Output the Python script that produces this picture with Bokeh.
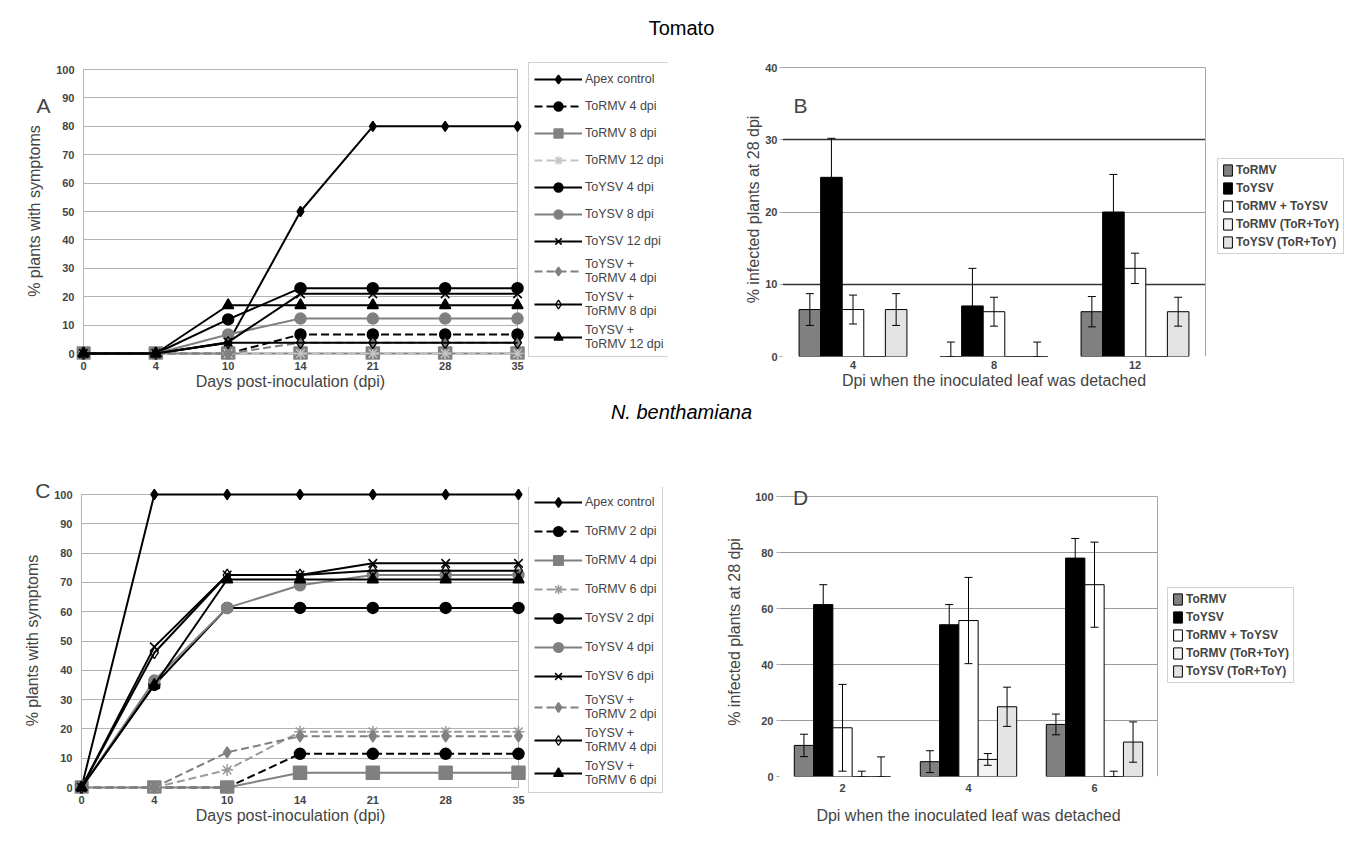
from bokeh.plotting import figure
from bokeh.layouts import column, row
from bokeh.models import (Range1d, FixedTicker, Legend, LegendItem, Label, Div,
                          Whisker, TeeHead, ColumnDataSource, LinearAxis, Grid)
from bokeh.transform import dodge
from bokeh.core.properties import value
from bokeh.embed import file_html
from bokeh.resources import INLINE

FONT = "Liberation Sans"

# ------------------------------------------------------------------ data
days = ["0", "4", "10", "14", "21", "28", "35"]

tomato_labels = ["Apex control", "ToRMV 4 dpi", "ToRMV 8 dpi", "ToRMV 12 dpi",
                 "ToYSV 4 dpi", "ToYSV 8 dpi", "ToYSV 12 dpi",
                 "ToYSV +\nToRMV 4 dpi", "ToYSV +\nToRMV 8 dpi", "ToYSV +\nToRMV 12 dpi"]
tom_apex = [0, 0, 3.8, 50, 80, 80, 80]
tom_tormv_4 = [0, 0, 0, 6.7, 6.7, 6.7, 6.7]
tom_tormv_8 = [0, 0, 0, 0, 0, 0, 0]
tom_tormv_12 = [0, 0, 0, 0, 0, 0, 0]
tom_toysv_4 = [0, 0, 12, 23, 23, 23, 23]
tom_toysv_8 = [0, 0, 6.7, 12.3, 12.3, 12.3, 12.3]
tom_toysv_12 = [0, 0, 4, 21, 21, 21, 21]
tom_mix_4 = [0, 0, 0, 3.8, 3.8, 3.8, 3.8]
tom_mix_8 = [0, 0, 3.8, 3.8, 3.8, 3.8, 3.8]
tom_mix_12 = [0, 0, 17, 17, 17, 17, 17]

nb_labels = ["Apex control", "ToRMV 2 dpi", "ToRMV 4 dpi", "ToRMV 6 dpi",
             "ToYSV 2 dpi", "ToYSV 4 dpi", "ToYSV 6 dpi",
             "ToYSV +\nToRMV 2 dpi", "ToYSV +\nToRMV 4 dpi", "ToYSV +\nToRMV 6 dpi"]
nb_apex = [0, 100, 100, 100, 100, 100, 100]
nb_tormv_2 = [0, 0, 0, 11.5, 11.5, 11.5, 11.5]
nb_tormv_4 = [0, 0, 0, 5, 5, 5, 5]
nb_tormv_6 = [0, 0, 6, 19, 19, 19, 19]
nb_toysv_2 = [0, 35, 61.3, 61.3, 61.3, 61.3, 61.3]
nb_toysv_4 = [0, 36.5, 61.3, 69, 72.5, 72.5, 72.5]
nb_toysv_6 = [0, 48, 72.5, 72.5, 76.5, 76.5, 76.5]
nb_mix_2 = [0, 0, 12, 17.5, 17.5, 17.5, 17.5]
nb_mix_4 = [0, 46, 72.5, 72.5, 74, 74, 74]
nb_mix_6 = [0, 35, 71, 71, 71, 71, 71]

bar_names = ["ToRMV", "ToYSV", "ToRMV + ToYSV", "ToRMV (ToR+ToY)", "ToYSV (ToR+ToY)"]

tom_dpi = ["4", "8", "12"]
tom_b_tormv = [6.5, 0, 6.2]
tom_b_tormv_err = [2.2, 2.0, 2.1]
tom_b_toysv = [24.8, 7.0, 20.0]
tom_b_toysv_err = [5.4, 5.2, 5.2]
tom_b_both = [6.5, 6.2, 12.2]
tom_b_both_err = [2.0, 2.0, 2.1]
tom_b_tormv_mix = [0, 0, 0]
tom_b_tormv_mix_err = [0, 0, 0]
tom_b_toysv_mix = [6.5, 0, 6.2]
tom_b_toysv_mix_err = [2.2, 2.0, 2.0]

nb_dpi = ["2", "4", "6"]
nb_b_tormv = [11.1, 5.3, 18.6]
nb_b_tormv_err = [4.0, 3.9, 3.7]
nb_b_toysv = [61.4, 54.2, 78.0]
nb_b_toysv_err = [7.1, 7.2, 7.0]
nb_b_both = [17.4, 55.7, 68.5]
nb_b_both_err = [15.5, 15.4, 15.2]
nb_b_tormv_mix = [0, 6.1, 0]
nb_b_tormv_mix_err = [1.9, 2.1, 1.9]
nb_b_toysv_mix = [0, 24.9, 12.3]
nb_b_toysv_mix_err = [7.0, 7.0, 7.2]

# ------------------------------------------------------------------ styles
GRAY = "#808080"
GRID = "#b4b4b4"
BOX = "#a6a6a6"


def line_styles(light):
    return [
        dict(color="black", dash="solid", marker="diamond", size=10, fill="black", mline="black"),
        dict(color="black", dash="8 4", marker="circle", size=11, fill="black", mline="black"),
        dict(color=GRAY, dash="solid", marker="square", size=13, fill=GRAY, mline=GRAY),
        dict(color=light, dash="8 4", marker="asterisk", size=12, fill=light, mline=light),
        dict(color="black", dash="solid", marker="circle", size=11, fill="black", mline="black"),
        dict(color=GRAY, dash="solid", marker="circle", size=11, fill=GRAY, mline=GRAY),
        dict(color="black", dash="solid", marker="x", size=12, fill="black", mline="black"),
        dict(color=GRAY, dash="8 4", marker="diamond", size=11, fill=GRAY, mline=GRAY),
        dict(color="black", dash="solid", marker="diamond", size=12, fill=None, mline="black"),
        dict(color="black", dash="solid", marker="triangle", size=11, fill="black", mline="black"),
    ]


def style_axis(ax, tick_out, standoff, label_standoff=0):
    ax.major_label_text_font = FONT
    ax.major_label_text_font_style = "bold"
    ax.major_label_text_font_size = "11px"
    ax.axis_label_text_font = FONT
    ax.axis_label_text_font_style = "normal"
    ax.axis_label_text_font_size = "16px"
    ax.axis_line_color = None
    ax.major_tick_line_color = "#9a9a9a" if tick_out else None
    ax.major_tick_in = 0
    ax.major_tick_out = tick_out
    ax.minor_tick_line_color = None
    ax.major_label_standoff = standoff
    ax.axis_label_standoff = label_standoff


def text_axis(loc, text, standoff, size):
    """An axis with one tick whose label is a title or a panel letter."""
    ax = LinearAxis(ticker=FixedTicker(ticks=[loc]), major_label_overrides={loc: text})
    style_axis(ax, 0, standoff)
    ax.major_label_text_font_style = "normal"
    ax.major_label_text_font_size = size
    return ax


def title_axis(text, standoff):
    ax = LinearAxis(ticker=FixedTicker(ticks=[]), axis_label=text)
    style_axis(ax, 0, 0, standoff)
    ax.major_label_text_font_size = "0px"
    return ax


def line_panel(series, labels, styles, data_w, data_h, left_border, frame_w, borders_tb,
               legend_xy, glyph_h, letter, letter_y, letter_std, ytitle_std, xtitle_x):
    n = len(days) - 1
    ux = data_w / n
    uy = data_h / 100.0
    p = figure(frame_width=frame_w, frame_height=data_h + 13,
               x_range=Range1d(-7 / ux, -7 / ux + frame_w / ux),
               y_range=Range1d(-6 / uy, 100 + 7 / uy),
               x_axis_type=None, y_axis_type=None, title_location=None,
               min_border_left=left_border, min_border_right=0,
               min_border_top=borders_tb[0], min_border_bottom=borders_tb[1],
               output_backend="svg", toolbar_location=None,
               outline_line_color=None, background_fill_color="white")
    xs = list(range(len(days)))

    p.add_layout(Grid(dimension=1, ticker=FixedTicker(ticks=list(range(0, 101, 10))),
                      cross_bounds=(0, n), grid_line_color=GRID, grid_line_width=1))
    p.add_layout(Grid(dimension=0, ticker=FixedTicker(ticks=[0, n]),
                      cross_bounds=(0, 100), grid_line_color=GRID, grid_line_width=1))

    xax = LinearAxis(ticker=FixedTicker(ticks=xs),
                     major_label_overrides={i: d for i, d in enumerate(days)})
    style_axis(xax, 0, 2)
    p.add_layout(xax, "below")
    p.add_layout(text_axis(xtitle_x, "Days post-inoculation (dpi)", 0, "16px"), "below")

    yax = LinearAxis(ticker=FixedTicker(ticks=list(range(0, 101, 10))))
    style_axis(yax, 0, 2)
    p.add_layout(yax, "left")
    p.add_layout(text_axis(letter_y, letter, letter_std, "21px"), "left")
    p.add_layout(title_axis("% plants with symptoms", ytitle_std), "left")

    items = []
    for vals, lab, st in zip(series, labels, styles):
        src = ColumnDataSource(dict(x=xs, y=vals))
        lr = p.line("x", "y", source=src, line_color=st["color"], line_width=2,
                    line_dash=st["dash"])
        if st["fill"] is None:
            sr = p.scatter("x", "y", source=src, marker=st["marker"], size=st["size"],
                           fill_alpha=0, line_color=st["mline"], line_width=1.3)
        else:
            sr = p.scatter("x", "y", source=src, marker=st["marker"], size=st["size"],
                           fill_color=st["fill"], line_color=st["mline"], line_width=1.5)
        items.append(LegendItem(label=value(lab), renderers=[lr, sr]))

    leg = Legend(items=items, location=legend_xy, label_text_font=FONT,
                 label_text_font_size="12.5px", glyph_width=48, glyph_height=glyph_h,
                 label_height=glyph_h, spacing=5, padding=5, margin=0,
                 label_standoff=3, border_line_color=BOX, border_line_width=1,
                 background_fill_color="white")
    p.add_layout(leg)
    return p


def bar_panel(cats, vals, errs, y_end, y_step, data_w, data_h, frame_w, pads, borders,
              legend_xy, dark_ticks, light_ticks, stds, letter, letter_px):
    ncat = len(cats)
    ux = data_w / ncat
    uy = data_h / y_end
    xs = list(range(ncat))
    p = figure(x_range=Range1d(-0.5, -0.5 + frame_w / ux),
               y_range=Range1d(-pads[1] / uy, y_end + pads[0] / uy),
               frame_width=frame_w, frame_height=data_h + pads[0] + pads[1],
               title_location=None, x_axis_type=None, y_axis_type=None,
               min_border_left=borders[0], min_border_right=0,
               min_border_top=borders[1], min_border_bottom=borders[2],
               output_backend="svg", toolbar_location=None,
               outline_line_color=None, background_fill_color="white")
    xb = (-0.5, ncat - 0.5)
    p.add_layout(Grid(dimension=1, ticker=FixedTicker(ticks=light_ticks), cross_bounds=xb,
                      grid_line_color="#9a9a9a", grid_line_width=1))
    if dark_ticks:
        p.add_layout(Grid(dimension=1, ticker=FixedTicker(ticks=dark_ticks), cross_bounds=xb,
                          grid_line_color="#333333", grid_line_width=1.5))
    p.add_layout(Grid(dimension=1, ticker=FixedTicker(ticks=[0, y_end]), cross_bounds=xb,
                      grid_line_color=BOX, grid_line_width=1))
    p.add_layout(Grid(dimension=0, ticker=FixedTicker(ticks=list(xb)),
                      cross_bounds=(0, y_end), grid_line_color=BOX, grid_line_width=1))

    xax = LinearAxis(ticker=FixedTicker(ticks=xs),
                     major_label_overrides={i: c for i, c in enumerate(cats)})
    style_axis(xax, 0, stds[0])
    p.add_layout(xax, "below")
    p.add_layout(text_axis(1, "Dpi when the inoculated leaf was detached", stds[1], "16px"),
                 "below")
    yax = LinearAxis(ticker=FixedTicker(ticks=list(range(0, y_end + 1, y_step))),
                     axis_label="% infected plants at 28 dpi", bounds=(0, y_end))
    style_axis(yax, 3, stds[2], stds[3])
    yax.major_tick_line_color = BOX
    p.add_layout(yax, "left")

    fills = [GRAY, "black", "white", "#f3f3f3", "#e3e3e3"]
    bw = 0.153
    items = []
    for k, name in enumerate(bar_names):
        off = (k - 2) * bw
        src = ColumnDataSource(dict(x=xs, top=vals[k]))
        r = p.vbar(x=dodge("x", off), top="top", width=bw, source=src,
                   fill_color=fills[k], line_color="black", line_width=1)
        items.append(LegendItem(label=value(name), renderers=[r]))
        keep = [i for i in range(ncat) if errs[k][i] > 0]
        wsrc = ColumnDataSource(dict(
            x=[xs[i] for i in keep],
            up=[vals[k][i] + errs[k][i] for i in keep],
            lo=[max(vals[k][i] - errs[k][i], 0) for i in keep]))
        w = Whisker(source=wsrc, base=dodge("x", off), upper="up",
                    lower="lo", level="overlay", line_color="black", line_width=1,
                    upper_head=TeeHead(size=8, line_color="black", line_width=1),
                    lower_head=TeeHead(size=8, line_color="black", line_width=1))
        p.add_layout(w)
    leg = Legend(items=items, location=legend_xy, label_text_font=FONT,
                 label_text_font_size="12px", label_text_font_style="bold",
                 glyph_width=11, glyph_height=14, label_height=14, spacing=4, padding=4,
                 margin=0, label_standoff=3, border_line_color=BOX,
                 background_fill_color="white")
    p.add_layout(leg)
    p.add_layout(Label(x=-0.5 + letter_px[0] / ux, y=letter_px[1] / uy, text=letter,
                       text_font=FONT, text_font_size="21px", text_align="center",
                       text_baseline="middle"))
    return p


# row 1: frames 62..359 (A) and 62..356 (B); row 2: frames 487..793 (C) and 487..776 (D)
pA = line_panel([tom_apex, tom_tormv_4, tom_tormv_8, tom_tormv_12, tom_toysv_4, tom_toysv_8,
                 tom_toysv_12, tom_mix_4, tom_mix_8, tom_mix_12],
                tomato_labels, line_styles("#c4c4c4"), 434, 284, 68, 592, (17, 41),
                (452, 2), 22, "A", 87.3, 3, -9, 2.86)

pB = bar_panel(tom_dpi,
               [tom_b_tormv, tom_b_toysv, tom_b_both, tom_b_tormv_mix, tom_b_toysv_mix],
               [tom_b_tormv_err, tom_b_toysv_err, tom_b_both_err, tom_b_tormv_mix_err,
                tom_b_toysv_mix_err],
               40, 10, 423, 289, 573, (5, 0), (114, 17, 44), (435, 102),
               [10, 30], [20], (4, 0, 2, 0), "B", (18, 251))

pC = line_panel([nb_apex, nb_tormv_2, nb_tormv_4, nb_tormv_6, nb_toysv_2, nb_toysv_4,
                 nb_toysv_6, nb_mix_2, nb_mix_4, nb_mix_6],
                nb_labels, line_styles("#9a9a9a"), 437, 293, 66, 594, (62, 39),
                (454, 0), 24, "C", 101.4, 1, -8, 2.87)

pD = bar_panel(nb_dpi,
               [nb_b_tormv, nb_b_toysv, nb_b_both, nb_b_tormv_mix, nb_b_toysv_mix],
               [nb_b_tormv_err, nb_b_toysv_err, nb_b_both_err, nb_b_tormv_mix_err,
                nb_b_toysv_mix_err],
               100, 20, 378, 280, 576, (9, 0), (111, 62, 56), (388, 93),
               [], [20, 40, 60, 80], (7, 12, 3, 9), "D", (21, 279))

title1 = Div(text='<div style="width:1347px;text-align:center;font-family:\'Liberation Sans\';'
                  'font-size:20px;line-height:40px;">Tomato</div>',
             width=1347, height=37, margin=(0, 0, 0, 0))
title2 = Div(text='<div style="width:1347px;text-align:center;font-family:\'Liberation Sans\';'
                  'font-size:20px;font-style:italic;line-height:24px;">N. benthamiana</div>',
             width=1347, height=25, margin=(0, 0, 0, 0))

layout = column(title1, row(pA, pB, spacing=0), title2, row(pC, pD, spacing=0),
                spacing=0, margin=(8, 0, 0, 8))

open("out.html", "w").write(file_html(layout, INLINE))
